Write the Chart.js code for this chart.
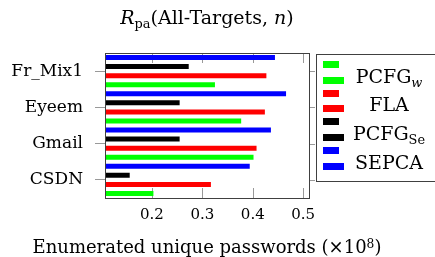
<!DOCTYPE html>
<html>
<head>
<meta charset="utf-8">
<script src="https://cdn.jsdelivr.net/npm/chart.js@4.4.0/dist/chart.umd.min.js"></script>
<style>
  body { margin: 0; background: #fff; }
  #wrap { position: relative; width: 435px; height: 257px; overflow: hidden; font-family: 'DejaVu Serif', serif; color: #000; }
  #chart-box { position: absolute; left: 0; top: 0; width: 435px; height: 257px; }
  #title { position: absolute; top: 8px; left: 105px; width: 204px; text-align: center; font-size: 19px; line-height: 19px; white-space: nowrap; }
  #xlabel { position: absolute; top: 238px; left: 0; width: 414px; text-align: center; font-size: 18px; line-height: 18px; white-space: nowrap; }
  #legend { position: absolute; left: 316px; top: 54px; width: 150px; height: 128px; border: 1px solid #404040; box-sizing: border-box; }
  .sw { position: absolute; left: 6px; height: 7px; }
  .lg-text { position: absolute; left: 34px; width: 76px; text-align: center; font-size: 19px; line-height: 19px; white-space: nowrap; }
  sub { font-size: 0.68em; vertical-align: -0.3em; line-height: 0; }
  sup { font-size: 0.68em; vertical-align: 0.45em; line-height: 0; }
</style>
</head>
<body>
<div id="wrap">
  <div id="chart-box"><canvas id="chart"></canvas></div>
  <div id="title"><i>R</i><sub>pa</sub>(All-Targets, <i>n</i>)</div>
  <div id="xlabel">Enumerated unique passwords (×10<sup>8</sup>)</div>
  <div id="legend"></div>
</div>
<script>
/* === DATA === */
const categories = ['Fr_Mix1', 'Eyeem', 'Gmail', 'CSDN'];
const pcfgW  = [0.325, 0.377, 0.4015, 0.203];
const fla    = [0.427, 0.424, 0.4075, 0.317];
const pcfgSe = [0.273, 0.255, 0.255, 0.156];
const sepca  = [0.444, 0.466, 0.436, 0.394];
const xTicks = [0.2, 0.3, 0.4, 0.5];

// legend order (top to bottom in the legend box)
const seriesLabels = ['PCFG_w', 'FLA', 'PCFG_Se', 'SEPCA'];
const seriesHtml   = ['PCFG<sub><i>w</i></sub>', 'FLA', 'PCFG<sub>Se</sub>', 'SEPCA'];
const seriesColors = ['#00ff00', '#ff0000', '#000000', '#0000ff'];
const seriesValues = [pcfgW, fla, pcfgSe, sepca];

const serif = "'DejaVu Serif', serif";

// pgfplots-like frame: inner x ticks, right y ticks, box around plot
const frameTicks = {
    id: 'frameTicks',
    beforeDatasetsDraw(chart) {
        const { ctx, chartArea: a, scales: { x, y } } = chart;
        ctx.save();
        ctx.strokeStyle = '#999';
        ctx.lineWidth = 1;
        ctx.beginPath();
        xTicks.forEach(v => {
            const px = Math.round(x.getPixelForValue(v)) + 0.5;
            ctx.moveTo(px, a.top); ctx.lineTo(px, a.top + 10);
            ctx.moveTo(px, a.bottom); ctx.lineTo(px, a.bottom - 10);
        });
        y.ticks.forEach((t, i) => {
            const py = Math.round(y.getPixelForTick(i)) + 0.5;
            ctx.moveTo(a.right, py); ctx.lineTo(a.right + 6, py);
        });
        ctx.stroke();
        ctx.restore();
    },
    afterDatasetsDraw(chart) {
        const { ctx, chartArea: a } = chart;
        ctx.save();
        ctx.strokeStyle = '#404040';
        ctx.lineWidth = 1;
        ctx.strokeRect(Math.round(a.left) + 0.5, Math.round(a.top) + 0.5,
            Math.round(a.right - a.left), Math.round(a.bottom - a.top));
        ctx.restore();
    }
};

// bars are drawn top to bottom inside a group, so reverse the legend order
const datasets = seriesLabels.map((label, i) => ({
    label: label,
    data: seriesValues[i],
    backgroundColor: seriesColors[i],
    borderWidth: 0,
    barPercentage: 0.55,
    categoryPercentage: 1.0
})).reverse();

new Chart(document.getElementById('chart'), {
    type: 'bar',
    data: { labels: categories, datasets: datasets },
    options: {
        indexAxis: 'y',
        responsive: true,
        maintainAspectRatio: false,
        animation: false,
        devicePixelRatio: 1,
        layout: { padding: { top: 53, right: 126, bottom: 0, left: 0 } },
        plugins: { legend: { display: false }, tooltip: { enabled: false } },
        scales: {
            x: {
                type: 'linear',
                min: 0.107,
                max: 0.5115,
                afterBuildTicks: scale => { scale.ticks = xTicks.map(v => ({ value: v })); },
                afterFit: scale => { scale.height = 59; },
                grid: { drawOnChartArea: false, drawTicks: false },
                border: { display: false },
                ticks: {
                    color: '#000',
                    padding: 8,
                    font: { family: serif, size: 15 },
                    callback: v => v.toFixed(1)
                }
            },
            y: {
                type: 'category',
                offset: true,
                afterFit: scale => { scale.width = 105; },
                grid: { offset: false, drawOnChartArea: false, tickLength: 10, color: '#999' },
                border: { display: false },
                ticks: {
                    color: '#000',
                    padding: 12,
                    font: { family: serif, size: 17 }
                }
            }
        }
    },
    plugins: [frameTicks]
});

/* === LEGEND === */
function buildLegend() {
    const box = document.getElementById('legend');
    seriesHtml.forEach((html, i) => {
        const top = 6 + i * 28.7;
        const small = document.createElement('div');
        small.className = 'sw';
        small.style.top = `${top}px`;
        small.style.width = '16px';
        small.style.background = seriesColors[i];
        const big = document.createElement('div');
        big.className = 'sw';
        big.style.top = `${top + 15.5}px`;
        big.style.width = '21px';
        big.style.background = seriesColors[i];
        const txt = document.createElement('div');
        txt.className = 'lg-text';
        txt.style.top = `${top + 5.5}px`;
        txt.innerHTML = html;
        box.appendChild(small);
        box.appendChild(big);
        box.appendChild(txt);
    });
}
buildLegend();
</script>
</body>
</html>
